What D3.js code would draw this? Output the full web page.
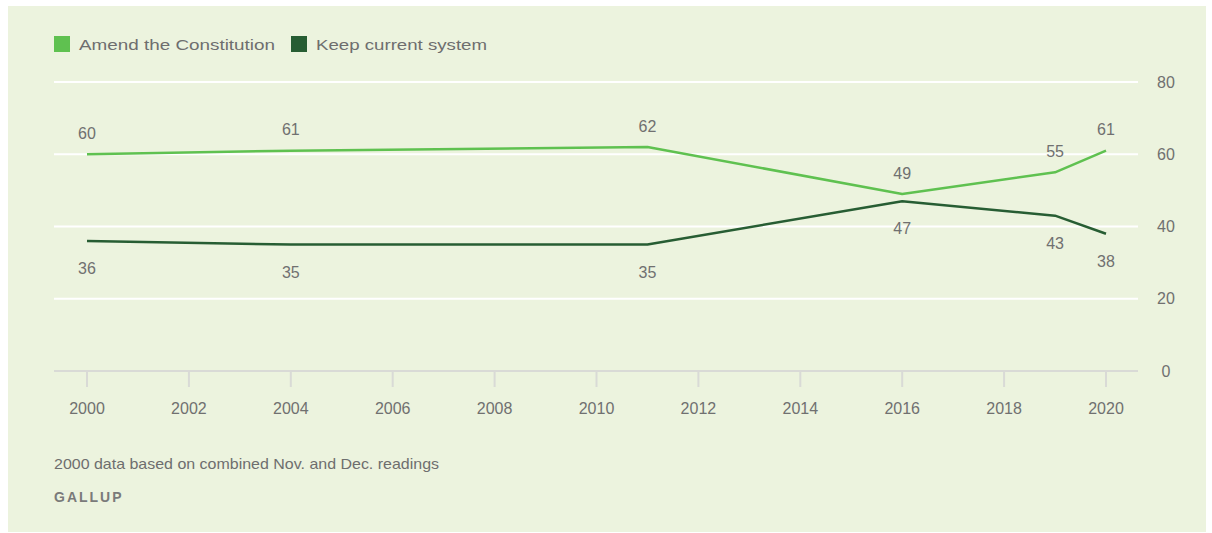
<!DOCTYPE html>
<html><head><meta charset="utf-8">
<script src="https://cdn.jsdelivr.net/npm/d3@7"></script>
<style>
html,body{margin:0;padding:0;background:#fff;}
svg text{font-family:"Liberation Sans",Arial,sans-serif;}
</style></head>
<body>
<svg id="chart" width="1212" height="533"></svg>
<script>
const years = [2000, 2004, 2011, 2016, 2019, 2020];
const amend = [60, 61, 62, 49, 55, 61];
const keep = [36, 35, 35, 47, 43, 38];
const xTicks = [2000, 2002, 2004, 2006, 2008, 2010, 2012, 2014, 2016, 2018, 2020];
const yTicks = [0, 20, 40, 60, 80];
const seriesNames = ["Amend the Constitution", "Keep current system"];
const colors = ["#5fc150", "#275d33"];
const footnote = "2000 data based on combined Nov. and Dec. readings";
const source = "GALLUP";

const svg = d3.select("#chart");
svg.append("rect").attr("x", 8).attr("y", 6).attr("width", 1198).attr("height", 526).attr("fill", "#ecf3de");

const x = d3.scaleLinear().domain([2000, 2020]).range([87, 1106]);
const y = d3.scaleLinear().domain([0, 80]).range([371, 82]);
const gx0 = 54, gx1 = 1138;

// gridlines
svg.append("g").selectAll("line").data(yTicks.filter(d => d > 0)).join("line")
  .attr("x1", gx0).attr("x2", gx1).attr("y1", d => y(d)).attr("y2", d => y(d))
  .attr("stroke", "#ffffff").attr("stroke-width", 2);

// y labels
svg.append("g").selectAll("text").data(yTicks).join("text")
  .attr("x", 1166).attr("y", d => y(d)).attr("dy", "0.35em")
  .attr("text-anchor", "middle").attr("font-size", 16).attr("fill", "#707070")
  .text(d => d);

// x axis baseline & ticks
svg.append("line").attr("x1", gx0).attr("x2", gx1).attr("y1", y(0)).attr("y2", y(0))
  .attr("stroke", "#d9dad6").attr("stroke-width", 2);
svg.append("g").selectAll("line").data(xTicks).join("line")
  .attr("x1", d => x(d)).attr("x2", d => x(d)).attr("y1", y(0)).attr("y2", y(0) + 16)
  .attr("stroke", "#d9dad6").attr("stroke-width", 2);
svg.append("g").selectAll("text").data(xTicks).join("text")
  .attr("x", d => x(d)).attr("y", 414)
  .attr("text-anchor", "middle").attr("font-size", 16).attr("fill", "#707070")
  .text(d => d);

// lines
const line = d3.line().x(d => x(d[0])).y(d => y(d[1]));
const series = [amend, keep];
series.forEach((vals, i) => {
  svg.append("path").datum(years.map((yr, j) => [yr, vals[j]]))
    .attr("d", line).attr("fill", "none").attr("stroke", colors[i])
    .attr("stroke-width", 2.5).attr("stroke-linejoin", "round");
});

// data labels
svg.append("g").selectAll("text").data(years.map((yr, j) => [yr, amend[j]])).join("text")
  .attr("x", d => x(d[0])).attr("y", d => y(d[1]) - 21).attr("dy", "0.35em")
  .attr("text-anchor", "middle").attr("font-size", 16).attr("fill", "#707070")
  .text(d => d[1]);
svg.append("g").selectAll("text").data(years.map((yr, j) => [yr, keep[j]])).join("text")
  .attr("x", d => x(d[0])).attr("y", d => y(d[1]) + 27.5).attr("dy", "0.35em")
  .attr("text-anchor", "middle").attr("font-size", 16).attr("fill", "#707070")
  .text(d => d[1]);

// legend
const legX = [54, 291], legW = [196, 171];
seriesNames.forEach((n, i) => {
  svg.append("rect").attr("x", legX[i]).attr("y", 36).attr("width", 16).attr("height", 16).attr("fill", colors[i]);
  svg.append("text").attr("x", legX[i] + 25).attr("y", 49.5)
    .attr("font-size", 15).attr("fill", "#6e6e6e")
    .attr("textLength", legW[i]).attr("lengthAdjust", "spacingAndGlyphs")
    .text(n);
});

// footnote & source
svg.append("text").attr("x", 54).attr("y", 469).attr("font-size", 15).attr("fill", "#6e6e6e")
  .attr("textLength", 385).attr("lengthAdjust", "spacingAndGlyphs").text(footnote);
svg.append("text").attr("x", 54).attr("y", 502).attr("font-size", 14).attr("fill", "#7a7a7a")
  .attr("letter-spacing", 2).attr("font-weight", "bold").text(source);
</script>
</body></html>
